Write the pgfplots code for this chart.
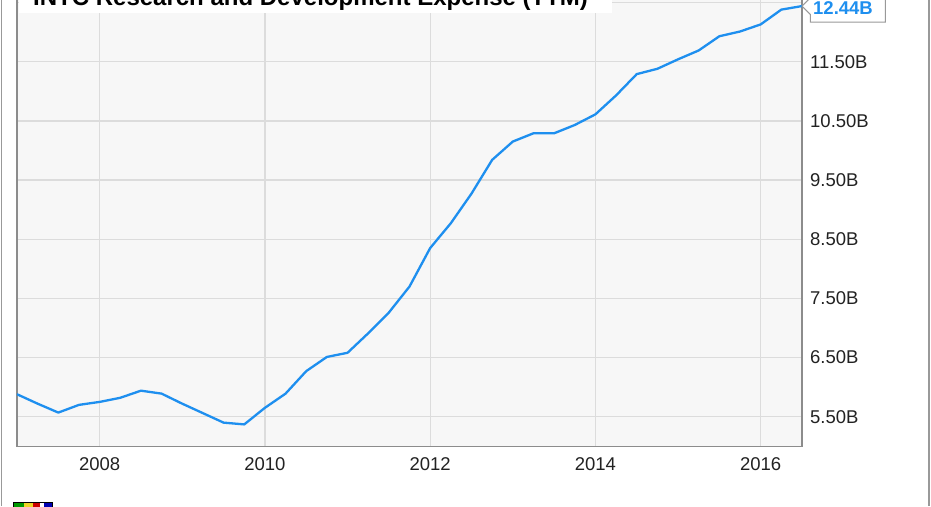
\documentclass[border=0pt]{standalone}
\usepackage{fontspec}
\setmainfont{Liberation Sans}
\usepackage{pgfplots}
\pgfplotsset{compat=1.18}
\definecolor{linec}{HTML}{1E8FEF}
\definecolor{gridc}{HTML}{DCDCDC}
\definecolor{axisc}{HTML}{8C8C8C}
\definecolor{bgc}{HTML}{F7F7F7}
\definecolor{tickc}{HTML}{222222}
\definecolor{framec}{HTML}{999999}
\begin{document}
\begin{tikzpicture}[x=1pt,y=1pt]
\path[use as bounding box] (0,0) rectangle (931,506);
\begin{scope}
\clip (0,0) rectangle (931,506);
\begin{axis}[
  at={(17pt,59.7pt)}, anchor=south west,
  scale only axis, width=785pt, height=449.7pt,
  xmin=2007, xmax=2016.5, ymin=5, ymax=12.6,
  xtick={2008,2010,2012,2014,2016},
  xticklabels={2008,2010,2012,2014,2016},
  ytick={5.5,6.5,7.5,8.5,9.5,10.5,11.5,12.5},
  yticklabels={5.50B,6.50B,7.50B,8.50B,9.50B,10.50B,11.50B,},
  yticklabel pos=right,
  major tick length=0pt,
  grid=major,
  grid style={draw=gridc, line width=1.3pt},
  axis line style={draw=axisc, line width=1.5pt},
  axis background/.style={fill=bgc},
  tick label style={font=\fontsize{18.5}{20}\selectfont, text=tickc, inner sep=0pt},
  x tick label style={anchor=north, yshift=-10.7pt},
  y tick label style={anchor=west, xshift=8pt},
]
\addplot[draw=linec, line width=2.3pt, line join=round, mark=none] coordinates {
(2007.00,5.88) (2007.25,5.72) (2007.50,5.57) (2007.75,5.70)
(2008.00,5.75) (2008.25,5.82) (2008.50,5.94) (2008.75,5.89)
(2009.00,5.72) (2009.25,5.56) (2009.50,5.40) (2009.75,5.37)
(2010.00,5.65) (2010.25,5.89) (2010.50,6.27) (2010.75,6.51)
(2011.00,6.58) (2011.25,6.91) (2011.50,7.26) (2011.75,7.70)
(2012.00,8.35) (2012.25,8.77) (2012.50,9.27) (2012.75,9.84)
(2013.00,10.15) (2013.25,10.29) (2013.50,10.29) (2013.75,10.43)
(2014.00,10.61) (2014.25,10.93) (2014.50,11.29) (2014.75,11.38)
(2015.00,11.54) (2015.25,11.69) (2015.50,11.93) (2015.75,12.01)
(2016.00,12.13) (2016.25,12.38) (2016.50,12.44)
};
\coordinate (tip) at (axis cs:2016.5,12.44);
\end{axis}
% title box
\fill[white] (19,492.7) rectangle (612,515);
\node[anchor=base west, inner sep=0pt, font=\bfseries\fontsize{24}{26}\selectfont] at (33,500.5) {INTC Research and Development Expense (TTM)};
% callout
\draw[framec, line width=1pt, fill=white] (tip) -- ++(8.3,8.3) -- ++(0,25) -- ++(75,0) -- ++(0,-49.4) -- ++(-75,0) -- ++(0,7.8) -- cycle;
\node[anchor=west, inner sep=0pt, text=linec, font=\bfseries\fontsize{18.5}{20}\selectfont] at ([xshift=11pt,yshift=-1.5pt]tip) {12.44B};
% frame
\draw[framec, line width=1.5pt] (1.5,0) -- (1.5,506);
\draw[framec, line width=1.5pt] (929,0) -- (929,506);
% logo
\draw[black, line width=0.8pt, fill=white] (13,-2) rectangle (52.5,3.8);
\fill[green!60!black] (14,-1) rectangle (24,3.2);
\fill[yellow!70!brown] (24,-1) rectangle (33,3.2);
\fill[red!80!black] (33,-1) rectangle (40,3.2);
\fill[blue!70!black] (44,-1) rectangle (51.5,3.2);
\end{scope}
\end{tikzpicture}
\end{document}
